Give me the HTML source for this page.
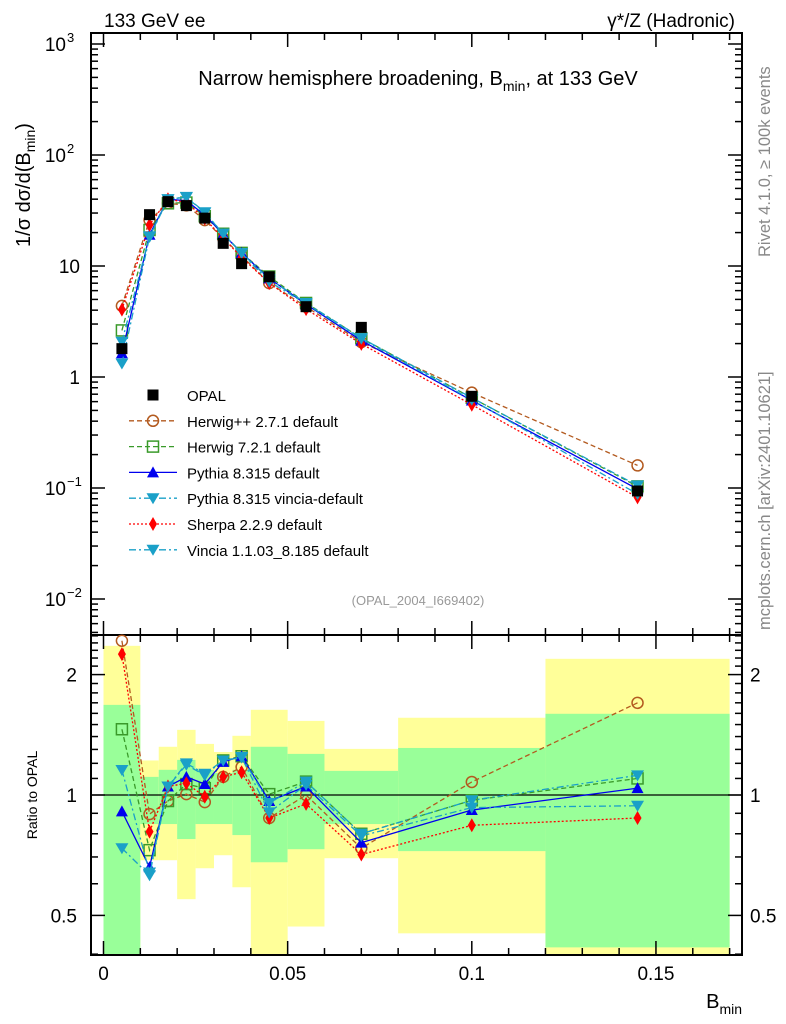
<!DOCTYPE html>
<html><head><meta charset="utf-8"><style>
body{margin:0;background:#fff}
svg{display:block;font-family:"Liberation Sans",sans-serif}
</style></head><body>
<svg id="c" width="786" height="1024" xmlns="http://www.w3.org/2000/svg">
<text x="104" y="27" font-size="19">133 GeV ee</text>
<text x="735" y="27" font-size="19" text-anchor="end">γ*/Z (Hadronic)</text>
<text x="418" y="85" font-size="20" text-anchor="middle">Narrow hemisphere broadening, B<tspan font-size="14" dy="6">min</tspan><tspan dy="-6">, at 133 GeV</tspan></text>
<text x="418" y="605" font-size="13" fill="#999" text-anchor="middle">(OPAL_2004_I669402)</text>
<text transform="translate(770,257) rotate(-90)" font-size="16.5" fill="#888">Rivet 4.1.0, ≥ 100k events</text>
<text transform="translate(770,630) rotate(-90)" font-size="16.5" fill="#888">mcplots.cern.ch [arXiv:2401.10621]</text>
<text transform="translate(30,185) rotate(-90)" font-size="20" text-anchor="middle">1/σ  dσ/d(B<tspan font-size="14" dy="5">min</tspan><tspan dy="-5">)</tspan></text>
<text transform="translate(37,795) rotate(-90)" font-size="14" text-anchor="middle">Ratio to OPAL</text>
<text x="742" y="1008" font-size="20" text-anchor="end">B<tspan font-size="14" dy="6">min</tspan></text>
<g id="bands"></g><g id="grid"></g><g id="series"></g><g id="legend"></g>
</svg>
<script>
const binLo=[0,0.01,0.015,0.02,0.025,0.03,0.035,0.04,0.05,0.06,0.08,0.12];
const binHi=[0.01,0.015,0.02,0.025,0.03,0.035,0.04,0.05,0.06,0.08,0.12,0.17];
const xs=[0.005,0.0125,0.0175,0.0225,0.0275,0.0325,0.0375,0.045,0.055,0.07,0.1,0.145];
const opal=[1.8,29,38,35,27,16,10.5,8.0,4.3,2.8,0.67,0.094];
const yelLo=[0.3,0.687,0.687,0.549,0.656,0.707,0.588,0.3,0.469,0.695,0.451,0.3];
const yelHi=[2.36,1.22,1.32,1.455,1.342,1.281,1.406,1.633,1.532,1.304,1.56,2.19];
const grnLo=[0.3,0.846,0.846,0.776,0.846,0.846,0.794,0.679,0.732,0.846,0.724,0.416];
const grnHi=[1.68,1.11,1.156,1.224,1.156,1.135,1.156,1.32,1.267,1.149,1.311,1.596];
const rHerwigpp=[2.43,0.896,0.966,1.005,0.96,1.11,1.175,0.876,1.0,0.736,1.078,1.70];
const rHerwig7=[1.46,0.728,0.966,1.065,1.04,1.22,1.25,1.005,1.08,0.80,0.97,1.10];
const rPythia=[0.91,0.66,1.05,1.11,1.065,1.21,1.25,0.966,1.05,0.76,0.917,1.04];
const rPyVincia=[1.155,0.64,1.05,1.20,1.13,1.22,1.245,0.955,1.08,0.80,0.97,1.12];
const rSherpa=[2.25,0.81,1.05,1.07,0.99,1.11,1.14,0.876,0.95,0.71,0.84,0.876];
const rVincia=[0.736,0.63,1.05,1.19,1.12,1.22,1.24,0.905,1.06,0.79,0.93,0.94];
const xTicks=[0,0.05,0.1,0.15];
const xTickLabels=["0","0.05","0.1","0.15"];
const yDecades=[-2,-1,0,1,2,3];
const yDecLabels=["10","10","1","10","10","10"];
const yDecSup=["−2","−1","","","2","3"];
const rTicks=[0.5,1,2];
const rTickLabels=["0.5","1","2"];

const NS="http://www.w3.org/2000/svg";
const L=91,R=742,T=33,M=635,B=955;
const X=v=>103.5+v*3683;
const Y=v=>377-Math.log10(v)*111;
const RY=v=>795-Math.log10(v)*400;
function mk(tag,attrs,parent){const e=document.createElementNS(NS,tag);for(const k in attrs)e.setAttribute(k,attrs[k]);(parent||document.getElementById('c')).appendChild(e);return e;}
const clip=v=>Math.max(M,Math.min(B,v));

const gb=document.getElementById('bands');
for(let i=0;i<binLo.length;i++){
  const x0=X(binLo[i]),w=X(binHi[i])-x0;
  let a=clip(RY(yelHi[i])),b=clip(RY(yelLo[i]));
  let r=mk('rect',{x:x0,y:a,width:w,height:b-a,fill:'#ffff99'},gb);
  
  
  a=clip(RY(grnHi[i]));b=clip(RY(grnLo[i]));
  r=mk('rect',{x:x0,y:a,width:w,height:b-a,fill:'#99ff99'},gb);
  
  
}
const gg=document.getElementById('grid');
let f=mk('rect',{x:L,y:T,width:R-L,height:M-T,fill:'none',stroke:'#000','stroke-width':2},gg);


f=mk('rect',{x:L,y:M,width:R-L,height:B-M,fill:'none',stroke:'#000','stroke-width':2},gg);


let ln=mk('line',{x1:L,x2:R,y1:RY(1),y2:RY(1),stroke:'#000','stroke-width':1.3},gg);


for(let v=0;v<=0.1701;v+=0.01){
  const big=Math.abs(v*20-Math.round(v*20))<1e-6, x=X(v), len=big?14:7;
  [[T,T+len],[M,M-len],[M,M+len],[B,B-len]].forEach(p=>mk('line',{x1:x,x2:x,y1:p[0],y2:p[1],stroke:'#000','stroke-width':1.5},gg));
}
xTicks.forEach((v,i)=>{const t=mk('text',{x:X(v),y:980,'font-size':19,'text-anchor':'middle'},gg);t.textContent=xTickLabels[i];

});
for(let d=-3;d<=3;d++){for(let m=1;m<10;m++){const v=m*Math.pow(10,d),y=Y(v);if(y<T||y>M)continue;const len=m==1?14:7;
  mk('line',{x1:L,x2:L+len,y1:y,y2:y,stroke:'#000','stroke-width':1.5},gg);mk('line',{x1:R,x2:R-len,y1:y,y2:y,stroke:'#000','stroke-width':1.5},gg);}}
yDecades.forEach((d,i)=>{const t=mk('text',{x:yDecSup[i]?66:80,y:Y(Math.pow(10,d))+7,'font-size':19,'text-anchor':'end'},gg);t.textContent=yDecLabels[i];


if(yDecSup[i]){const s=mk('text',{x:67,y:Y(Math.pow(10,d))-2,'font-size':13},gg);s.textContent=yDecSup[i];}});
[0.4,0.5,0.6,0.7,0.8,0.9,1,1.1,1.2,1.3,1.4,1.5,1.6,1.7,1.8,1.9,2,2.1,2.2,2.3,2.4,2.5].forEach(v=>{const y=RY(v);if(y<M||y>B)return;const len=(v==0.5||v==1||v==2)?14:7;
  mk('line',{x1:L,x2:L+len,y1:y,y2:y,stroke:'#000','stroke-width':1.5},gg);mk('line',{x1:R,x2:R-len,y1:y,y2:y,stroke:'#000','stroke-width':1.5},gg);});
rTicks.forEach((v,i)=>{let t=mk('text',{x:77,y:RY(v)+7,'font-size':19,'text-anchor':'end'},gg);t.textContent=rTickLabels[i];


t=mk('text',{x:750,y:RY(v)+7,'font-size':19},gg);t.textContent=rTickLabels[i];

});

function marker(g,type,x,y,col){
  const s=5.5;
  if(type=='sq')return mk('rect',{x:x-s,y:y-s,width:2*s,height:2*s,fill:'#000'},g);
  if(type=='osq')return mk('rect',{x:x-s,y:y-s,width:2*s,height:2*s,fill:'none',stroke:col,'stroke-width':1.5},g);
  if(type=='oc')return mk('circle',{cx:x,cy:y,r:s,fill:'none',stroke:col,'stroke-width':1.5},g);
  if(type=='tu')return mk('polygon',{points:`${x},${y-6} ${x-6},${y+5} ${x+6},${y+5}`,fill:col},g);
  if(type=='td')return mk('polygon',{points:`${x},${y+6} ${x-6.5},${y-5} ${x+6.5},${y-5}`,fill:col},g);
  if(type=='di')return mk('polygon',{points:`${x},${y-7} ${x-4},${y} ${x},${y+7} ${x+4},${y}`,fill:col},g);
}
const series=[
 {name:'Herwig++ 2.7.1 default',r:rHerwigpp,col:'#b35a1f',dash:'5,3',m:'oc',key:'herwigpp'},
 {name:'Herwig 7.2.1 default',r:rHerwig7,col:'#3a9a2a',dash:'5,3',m:'osq',key:'herwig7'},
 {name:'Pythia 8.315 default',r:rPythia,col:'#0000ee',dash:'',m:'tu',key:'pythia'},
 {name:'Pythia 8.315 vincia-default',r:rPyVincia,col:'#1aa0c8',dash:'7,3,2,3',m:'td',key:'pythia-vincia'},
 {name:'Sherpa 2.2.9 default',r:rSherpa,col:'#ff0000',dash:'2,2',m:'di',key:'sherpa'},
 {name:'Vincia 1.1.03_8.185 default',r:rVincia,col:'#1aa0c8',dash:'7,3,2,3',m:'td',key:'vincia'}
];
const gs=document.getElementById('series');
series.forEach(s=>{
  const g=mk('g',{},gs);
  
  
  const main=xs.map((x,i)=>[X(x),Y(opal[i]*s.r[i])]);
  const rat=xs.map((x,i)=>[X(x),RY(s.r[i])]);
  [main,rat].forEach(pts=>{
    const p=mk('polyline',{points:pts.map(p=>p.join(',')).join(' '),fill:'none',stroke:s.col,'stroke-width':1.3,'stroke-dasharray':s.dash},g);
    
    
    pts.forEach(q=>{const m=marker(g,s.m,q[0],q[1],s.col);
      
      });
  });
});
const go=mk('g',{},gs);


xs.forEach((x,i)=>{const m=marker(go,'sq',X(x),Y(opal[i]));
  
  });

const gl=document.getElementById('legend');
const leg=[{name:'OPAL',m:'sq',col:'#000',dash:null}].concat(series);
leg.forEach((s,i)=>{
  const y=395+i*25.8;
  const g=mk('g',{},gl);
  
  
  if(s.dash!==null)mk('line',{x1:129,x2:177,y1:y,y2:y,stroke:s.col,'stroke-width':1.3,'stroke-dasharray':s.dash},g);
  marker(g,s.m,153,y,s.col);
  const t=mk('text',{x:187,y:y+6,'font-size':15},g);t.textContent=s.name;
});
</script>
</body></html>
